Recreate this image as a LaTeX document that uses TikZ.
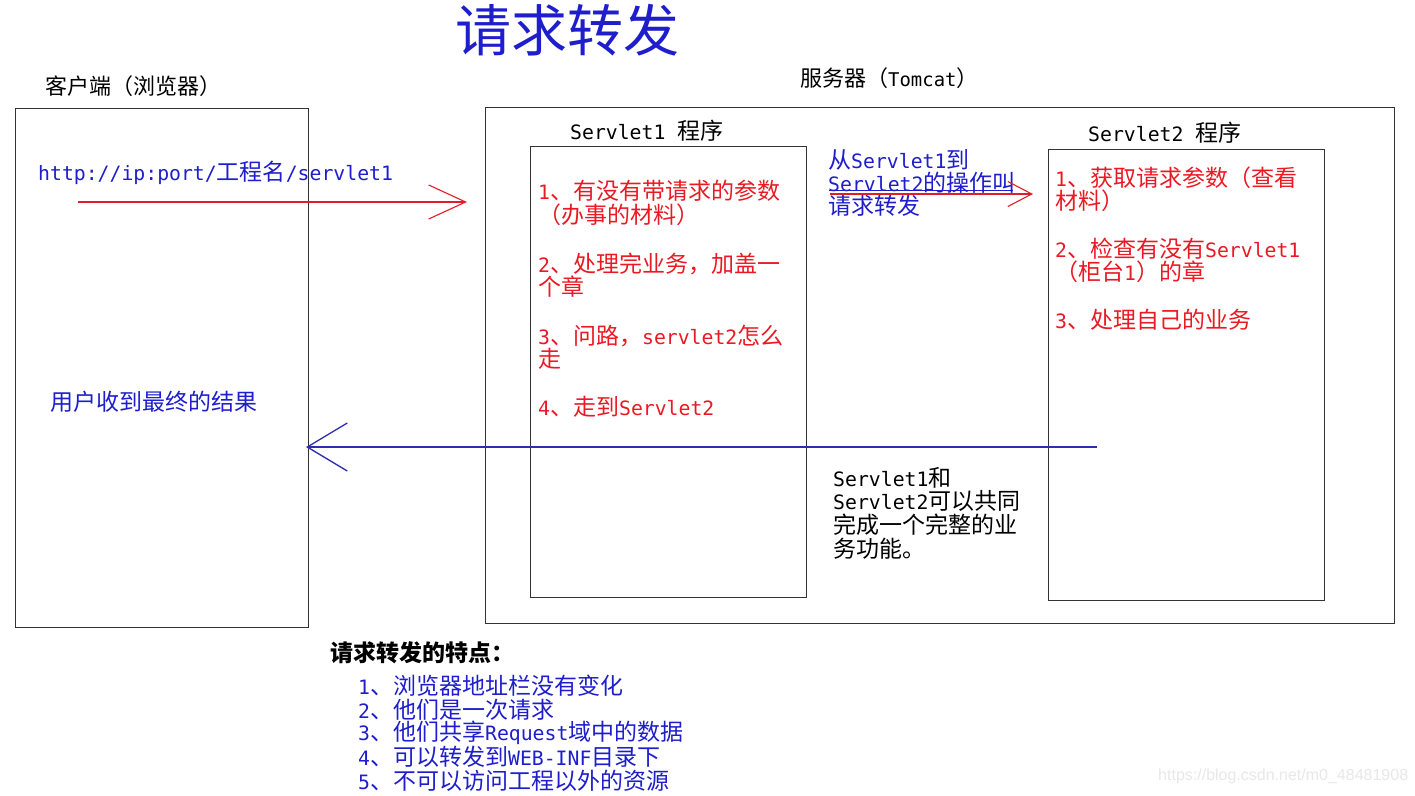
\documentclass[tikz,border=0pt]{standalone}
\usepackage{fontspec}
\setmainfont{Noto Sans CJK SC}
\newfontfamily\mono[Scale=0.86]{DejaVu Sans Mono}
\newfontfamily\wmfont{Liberation Sans}
\usetikzlibrary{arrows.meta}
\newcommand\m[1]{{\mono #1}}
\definecolor{tblue}{RGB}{30,30,205}
\definecolor{tred}{RGB}{235,25,35}
\definecolor{lblue}{RGB}{45,45,175}
\definecolor{lred}{RGB}{225,30,40}
\tikzset{
  box/.style={draw=black!80, line width=1.4pt, anchor=north west, inner sep=0pt},
  txt/.style={anchor=west, inner sep=0pt, font=\fontsize{23}{23}\selectfont},
  lbl/.style={anchor=west, inner sep=0pt, font=\fontsize{22}{22}\selectfont},
  rtxt/.style={txt, text=tred},
  btxt/.style={txt, text=tblue},
  redarrow/.style={draw=lred, line width=1.1pt},
  bluearrow/.style={draw=lblue, line width=1.3pt},
}
\begin{document}
\begin{tikzpicture}[x=1pt,y=-1pt]
\useasboundingbox (0,0) rectangle (1415,795);
\fill[white] (0,0) rectangle (1415,795);

% title
\node[inner sep=0pt, font=\fontsize{56}{56}\selectfont, text=tblue] (title) at (567,30) {请求转发};

% labels
\node[lbl] (clientlbl) at (45,86) {客户端（浏览器）};
\node[lbl] (serverlbl) at (800,78) {服务器（\m{Tomcat}）};

% boxes
\node[box, minimum width=293, minimum height=519] (client) at (15,108) {};
\node[box, minimum width=909, minimum height=516] (server) at (485,107) {};
\node[box, minimum width=276, minimum height=451] (s1) at (530,146) {};
\node[box, minimum width=276, minimum height=451] (s2) at (1048,149) {};

\node[txt] (s1lbl) at (570,131) {\m{Servlet1 }程序};
\node[txt] (s2lbl) at (1088,133) {\m{Servlet2 }程序};

% client texts
\node[btxt] (url) at (38,173) {\m{http://ip:port/}工程名\m{/servlet1}};
\node[btxt] (result) at (50,402) {用户收到最终的结果};

% request arrow
\coordinate (a1s) at (78,202);
\coordinate (a1e) at (467,202);
\draw[redarrow, -{Straight Barb[length=37pt,width=34pt]}] (a1s) -- (a1e);

% servlet1 texts
\node[rtxt] (r11) at (538,191) {\m{1}、有没有带请求的参数};
\node[rtxt] (r12) at (538,215) {（办事的材料）};
\node[rtxt] (r21) at (538,264) {\m{2}、处理完业务，加盖一};
\node[rtxt] (r22) at (538,287) {个章};
\node[rtxt] (r31) at (538,336) {\m{3}、问路，\m{servlet2}怎么};
\node[rtxt] (r32) at (538,359) {走};
\node[rtxt] (r41) at (538,407) {\m{4}、走到\m{Servlet2}};

% middle blue text
\node[btxt] (m1) at (828,160) {从\m{Servlet1}到};
\node[btxt] (m2) at (828,183) {\m{Servlet2}的操作叫};
\node[btxt] (m3) at (828,206) {请求转发};
\coordinate (ul1) at (829,190);
\coordinate (ul2) at (1013,190);
\draw[draw=tblue, line width=1pt] (ul1) -- (ul2);

% forward arrow
\coordinate (a2s) at (830,194);
\coordinate (a2e) at (1033,194);
\draw[redarrow, -{Straight Barb[length=24pt,width=25pt]}] (a2s) -- (a2e);

% servlet2 texts
\node[rtxt] (q11) at (1055,178) {\m{1}、获取请求参数（查看};
\node[rtxt] (q12) at (1055,201) {材料）};
\node[rtxt] (q21) at (1055,249) {\m{2}、检查有没有\m{Servlet1}};
\node[rtxt] (q22) at (1055,272) {（柜台\m{1}）的章};
\node[rtxt] (q31) at (1055,320) {\m{3}、处理自己的业务};

% response arrow
\coordinate (a3s) at (1097,447);
\coordinate (a3e) at (306,447);
\draw[bluearrow, -{Straight Barb[length=40pt,width=48pt]}] (a3s) -- (a3e);

% middle black text
\node[txt] (k1) at (833,478) {\m{Servlet1}和};
\node[txt] (k2) at (833,501) {\m{Servlet2}可以共同};
\node[txt] (k3) at (833,525) {完成一个完整的业};
\node[txt] (k4) at (833,549) {务功能。};

% features
\node[txt, font=\fontsize{23}{23}\selectfont\bfseries] (feat) at (330,653) {请求转发的特点：};
\node[btxt] (f1) at (358,686) {\m{1}、浏览器地址栏没有变化};
\node[btxt] (f2) at (358,710) {\m{2}、他们是一次请求};
\node[btxt] (f3) at (358,733) {\m{3}、他们共享\m{Request}域中的数据};
\node[btxt] (f4) at (358,757) {\m{4}、可以转发到\m{WEB-INF}目录下};
\node[btxt] (f5) at (358,781) {\m{5}、不可以访问工程以外的资源};

% watermark
\node[anchor=west, inner sep=0pt, font=\wmfont\fontsize{16}{16}\selectfont, text=black!9] (wmk) at (1158,776) {https://blog.csdn.net/m0\_48481908};
\end{tikzpicture}
\end{document}
